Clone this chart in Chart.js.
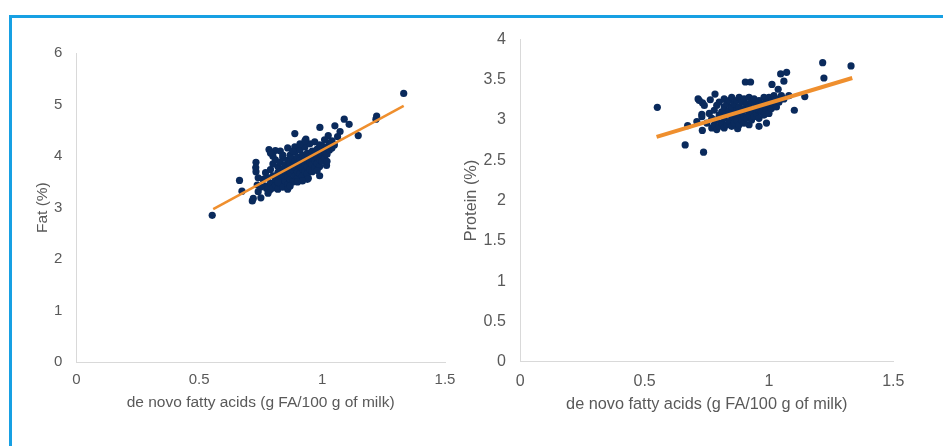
<!DOCTYPE html>
<html>
<head>
<meta charset="utf-8">
<script src="https://cdn.jsdelivr.net/npm/chart.js@4.4.1/dist/chart.umd.min.js"></script>
<style>
  html, body { margin: 0; padding: 0; background: #ffffff; }
  body { width: 943px; height: 446px; position: relative; overflow: hidden; }
  #frame { position: absolute; left: 9px; top: 15px; width: 1000px; height: 500px;
           border-left: 3px solid #17A0E3; border-top: 3px solid #17A0E3; box-sizing: border-box; }
  .box { position: absolute; top: 0; height: 446px; }
  #leftBox { left: 0; width: 466px; }
  #rightBox { left: 458px; width: 485px; }
</style>
</head>
<body>
<div id="frame"></div>
<div class="box" id="leftBox"><canvas id="fatChart"></canvas></div>
<div class="box" id="rightBox"><canvas id="proteinChart"></canvas></div>
<script>
// ---------- data ----------
const xAxisTitle = 'de novo fatty acids (g FA/100 g of milk)';
const fatTitle = 'Fat (%)';
const proteinTitle = 'Protein (%)';

const fatPoints = [
  [0.553,2.85],[1.332,5.22],[0.664,3.53],[0.674,3.32],[0.716,3.13],[0.720,3.18],[0.751,3.19],
  [0.731,3.88],[0.731,3.70],[0.736,3.44],[0.740,3.31],[0.784,4.13],[0.810,4.11],[0.889,4.44],
  [0.991,4.56],[1.052,4.59],[1.090,4.72],[1.110,4.62],[1.147,4.40],[1.219,4.72],[1.222,4.78],
  [1.073,4.48],[1.063,4.38],[1.025,4.40],[0.934,4.33],[0.990,3.62],[0.944,3.57],[1.018,3.82],
  [0.840,3.41],[0.788,3.35],[0.774,3.37],[0.889,4.18],[0.800,4.00],
  [0.76,3.55],[0.77,3.42],[0.77,3.68],[0.78,3.36],[0.78,3.58],[0.79,3.47],[0.79,3.74],[0.80,3.38],
  [0.80,3.62],[0.80,3.85],[0.81,3.44],[0.81,3.55],[0.81,3.93],[0.82,3.36],[0.82,3.68],[0.82,3.80],
  [0.83,3.47],[0.83,3.58],[0.83,3.88],[0.84,3.40],[0.84,3.64],[0.84,3.75],[0.84,3.97],[0.85,3.52],
  [0.85,3.70],[0.85,3.83],[0.86,3.45],[0.86,3.60],[0.86,3.78],[0.86,3.92],[0.87,3.55],[0.87,3.68],
  [0.87,3.86],[0.87,4.02],[0.88,3.50],[0.88,3.74],[0.88,3.82],[0.88,3.95],[0.89,3.62],[0.89,3.78],
  [0.89,3.90],[0.89,4.08],[0.90,3.58],[0.90,3.70],[0.90,3.85],[0.90,3.98],[0.91,3.66],[0.91,3.80],
  [0.91,3.92],[0.91,4.12],[0.92,3.62],[0.92,3.75],[0.92,3.88],[0.92,4.02],[0.93,3.70],[0.93,3.84],
  [0.93,3.96],[0.93,4.18],[0.94,3.66],[0.94,3.80],[0.94,3.93],[0.94,4.06],[0.95,3.74],[0.95,3.88],
  [0.95,4.00],[0.95,4.24],[0.96,3.70],[0.96,3.84],[0.96,3.97],[0.96,4.10],[0.97,3.78],[0.97,3.92],
  [0.97,4.05],[0.98,3.86],[0.98,3.98],[0.98,4.14],[0.99,3.80],[0.99,3.94],[0.99,4.08],[1.00,3.90],
  [1.00,4.02],[1.00,4.20],[1.01,3.96],[1.01,4.10],[1.02,4.04],[1.02,4.18],[1.03,4.12],[1.03,4.26],
  [1.04,4.16],[1.04,4.30],[1.05,4.22],[0.79,4.06],[0.83,4.10],[0.86,4.16],[0.91,4.24],[0.97,4.28],
  [1.01,4.32],[0.75,3.40],[0.74,3.58],[0.73,3.78],
  [0.78,3.28],[0.82,3.50],[0.86,3.36],[0.90,3.50],[0.94,3.55],[0.98,3.72],[1.02,3.90],[0.84,4.02],
  [0.88,4.10],[0.93,4.30],[0.99,4.22],[0.87,3.42],[0.92,3.52]
];
const fatTrend = [[0.557,2.97],[1.332,4.98]];

const proteinPoints = [
  [0.551,3.156],[0.663,2.69],[0.737,2.60],[1.330,3.67],[1.216,3.71],[1.221,3.52],[1.144,3.29],
  [1.102,3.12],[1.071,3.59],[1.047,3.57],[1.060,3.48],[1.037,3.38],[1.012,3.44],[0.905,3.47],
  [0.926,3.47],[0.783,3.32],[0.715,3.26],[0.733,3.21],[0.764,3.25],[0.673,2.93],[0.732,2.87],
  [0.874,2.89],[0.920,2.94],[0.960,2.92],[0.990,2.96],[0.730,3.07],
  [0.75,2.96],[0.76,3.08],[0.77,2.90],[0.77,3.02],[0.78,2.94],[0.78,3.12],[0.79,2.88],[0.79,3.00],
  [0.79,3.18],[0.80,2.92],[0.80,3.06],[0.80,3.22],[0.81,2.96],[0.81,3.10],[0.82,2.90],[0.82,3.02],
  [0.82,3.16],[0.82,3.26],[0.83,2.94],[0.83,3.08],[0.83,3.20],[0.84,2.98],[0.84,3.12],[0.84,3.24],
  [0.85,2.92],[0.85,3.04],[0.85,3.16],[0.85,3.28],[0.86,2.96],[0.86,3.08],[0.86,3.20],[0.87,3.00],
  [0.87,3.12],[0.87,3.24],[0.88,2.94],[0.88,3.06],[0.88,3.16],[0.88,3.28],[0.89,3.00],[0.89,3.10],
  [0.89,3.22],[0.90,2.96],[0.90,3.04],[0.90,3.14],[0.90,3.26],[0.91,3.02],[0.91,3.12],[0.91,3.20],
  [0.92,3.06],[0.92,3.16],[0.92,3.28],[0.93,3.00],[0.93,3.10],[0.93,3.22],[0.94,3.04],[0.94,3.14],
  [0.94,3.26],[0.95,3.08],[0.95,3.18],[0.96,3.02],[0.96,3.12],[0.96,3.24],[0.97,3.10],[0.97,3.20],
  [0.98,3.06],[0.98,3.16],[0.98,3.28],[0.99,3.12],[0.99,3.22],[1.00,3.08],[1.00,3.18],[1.00,3.28],
  [1.01,3.14],[1.01,3.24],[1.02,3.20],[1.02,3.30],[1.03,3.16],[1.03,3.26],[1.04,3.22],[1.05,3.30],
  [1.06,3.26],[1.08,3.30],[0.72,3.24],[0.74,3.18],[0.73,3.04],[0.71,2.98]
];
const proteinTrend = [[0.548,2.79],[1.335,3.52]];

const xTicks = [0, 0.5, 1, 1.5];
const fatTicks = [0, 1, 2, 3, 4, 5, 6];
const proteinTicks = [0, 0.5, 1, 1.5, 2, 2.5, 3, 3.5, 4];

// ---------- styling ----------
const NAVY = '#0A2A5C';
const ORANGE = '#EF8F2E';
const TEXT = '#595959';
const AXIS = '#D9D9D9';
const FONT = '"Liberation Sans", Arial, sans-serif';

function toXY(arr) { return arr.map(p => ({ x: p[0], y: p[1] })); }

function makeChart(id, cfg) {
  const ctx = document.getElementById(id);
  return new Chart(ctx, {
    type: 'scatter',
    data: {
      datasets: [
        {
          type: 'line', data: toXY(cfg.trend), borderColor: ORANGE, borderWidth: cfg.lineWidth,
          pointRadius: 0, fill: false, showLine: true, order: 0, borderCapStyle: 'butt'
        },
        {
          data: toXY(cfg.points), backgroundColor: NAVY, borderWidth: 0,
          pointRadius: 3.6, pointHoverRadius: 3.6, order: 1
        }
      ]
    },
    options: {
      responsive: true, maintainAspectRatio: false, animation: false,
      layout: { padding: cfg.padding },
      plugins: { legend: { display: false }, tooltip: { enabled: false } },
      scales: {
        x: {
          type: 'linear', min: 0, max: 1.5,
          afterBuildTicks: s => { s.ticks = xTicks.map(v => ({ value: v })); },
          afterFit: s => { s.height = cfg.xHeight; },
          grid: { display: false, drawTicks: false },
          border: { display: true, color: AXIS, width: 1 },
          ticks: { color: TEXT, padding: cfg.xTickPad, font: { family: FONT, size: cfg.tickSize },
                   maxRotation: 0, autoSkip: false, callback: v => String(v) },
          title: { display: true, text: xAxisTitle, color: TEXT, padding: 0,
                   font: { family: FONT, size: cfg.titleSize } }
        },
        y: {
          type: 'linear', min: 0, max: cfg.yMax,
          afterBuildTicks: s => { s.ticks = cfg.yTicks.map(v => ({ value: v })); },
          afterFit: s => { s.width = cfg.yWidth; },
          grid: { display: false, drawTicks: false },
          border: { display: true, color: AXIS, width: 1 },
          ticks: { color: TEXT, padding: cfg.yTickPad, font: { family: FONT, size: cfg.tickSize },
                   autoSkip: false, callback: v => String(v) },
          title: { display: true, text: cfg.yTitle, color: TEXT, padding: 0,
                   font: { family: FONT, size: cfg.titleSize } }
        }
      }
    }
  });
}

makeChart('fatChart', {
  points: fatPoints, trend: fatTrend, lineWidth: 2.5, yMax: 6, yTicks: fatTicks, yTitle: fatTitle,
  padding: { left: 33.7, top: 53.3, right: 21, bottom: 33.7 },
  xHeight: 50.3, yWidth: 42.6, xTickPad: 9, yTickPad: 14, tickSize: 15, titleSize: 15.5
});

makeChart('proteinChart', {
  points: proteinPoints, trend: proteinTrend, lineWidth: 4, yMax: 4, yTicks: proteinTicks, yTitle: proteinTitle,
  padding: { left: 3.7, top: 39.3, right: 49.7, bottom: 32.2 },
  xHeight: 52.1, yWidth: 58.6, xTickPad: 10.4, yTickPad: 14.5, tickSize: 16, titleSize: 16.3
});
</script>
</body>
</html>
